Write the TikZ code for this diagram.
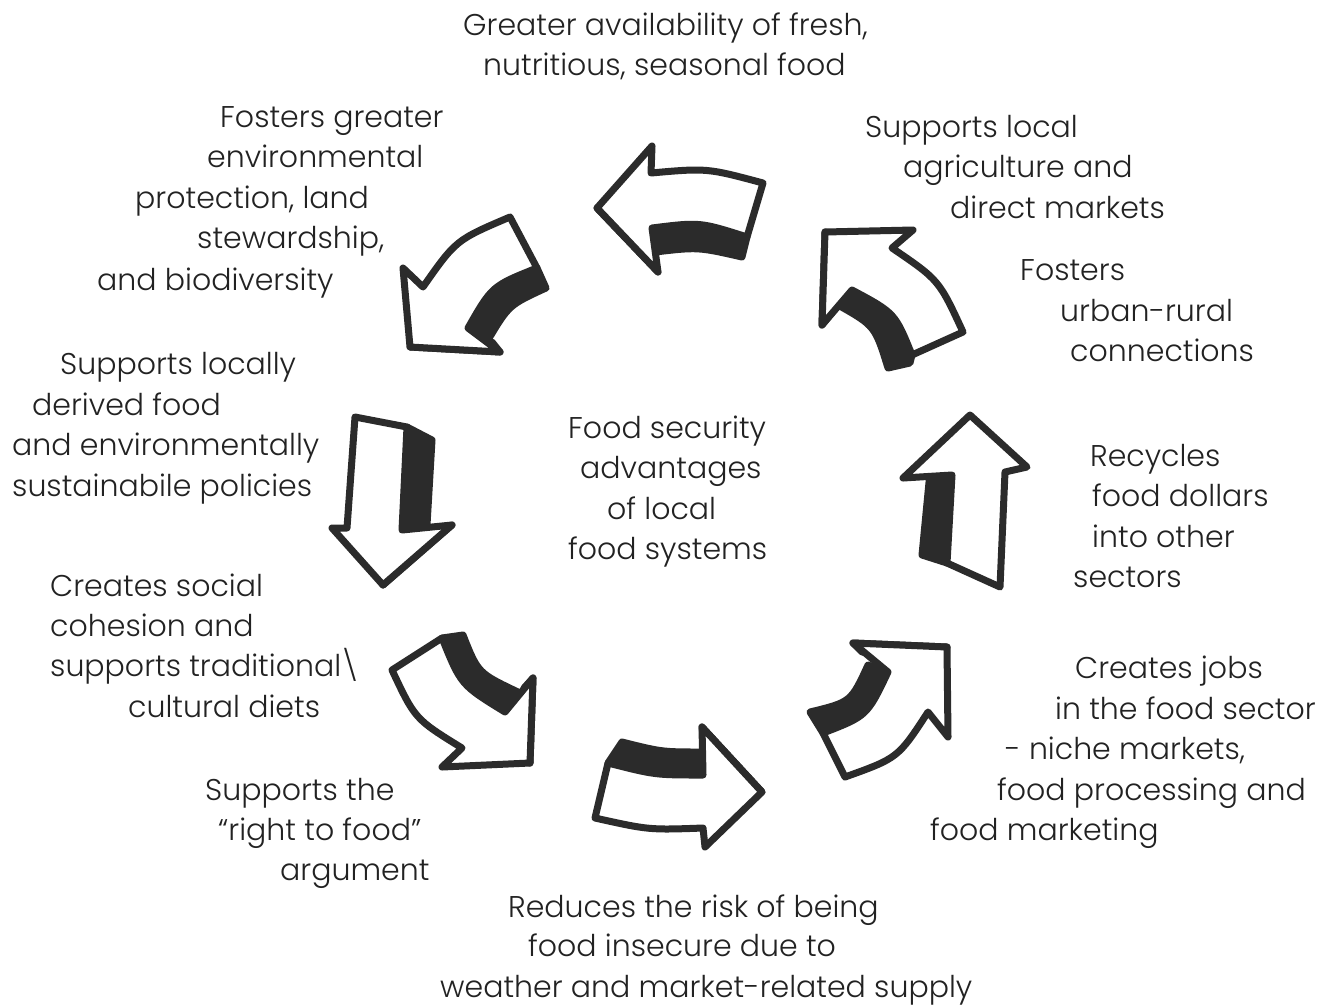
\documentclass[tikz,border=0pt]{standalone}
\usepackage{fontspec}
\setmainfont{Poppins}[UprightFont={* Light}]
\definecolor{ink}{HTML}{2B2B2B}
\definecolor{txt}{HTML}{222222}
\begin{document}
\begin{tikzpicture}[x=1pt,y=-1pt,
  face/.style={fill=white,draw=ink,line width=7pt,line join=round},
  side/.style={fill=ink,draw=ink,line width=7pt,line join=round},
  lbl/.style={anchor=base west,inner sep=0pt,font=\fontsize{30}{36}\selectfont,text=txt}]
\fill[white] (0,0) rectangle (1335,1005);
\useasboundingbox (0,0) rectangle (1335,1005);

% --- ring of block arrows, dark side facing the centre ---
% top, pointing left
\path[side] (652,228) .. controls (700,222) .. (747,237) -- (742,257) .. controls (698,247) .. (655,252) -- cycle;
\path[side] (597,208) -- (658,272) -- (650,262) -- (606,214) -- cycle;
\path[face] (597,208) -- (652,146) -- (651,173) .. controls (707,168) .. (763,183) -- (747,237) .. controls (700,222) .. (652,228) -- (658,272) -- cycle;
% upper right, pointing up-left
\path[side] (852,290) .. controls (895,313) .. (912,355) -- (910,363) -- (888,368) .. controls (875,326) .. (838,305) -- cycle;
\path[side] (825,232) -- (840,245) -- (838,305) -- (822,325) -- cycle;
\path[face] (825,232) -- (913,230) -- (892,248) .. controls (939,280) .. (963,332) -- (912,355) .. controls (895,313) .. (852,290) -- (822,325) -- cycle;
% right, pointing up
\path[side] (930,472) -- (952,475) -- (947,563) -- (922,555) -- cycle;
\path[face] (970,415) -- (1027,467) -- (1005,472) -- (1000,587) -- (947,563) -- (952,475) -- (903,478) -- cycle;
% lower right, pointing up-right
\path[side] (823,733) -- (810,712) .. controls (851,702) .. (868,665) -- (888,672) .. controls (867,716) .. (823,733) -- cycle;
\path[side] (853,643) -- (947,647) -- (940,655) -- (862,652) -- cycle;
\path[face] (947,647) -- (948,737) -- (928,712) .. controls (898,758) .. (845,777) -- (823,733) .. controls (867,716) .. (888,672) -- (853,643) -- cycle;
% bottom, pointing right
\path[side] (608,763) -- (622,742) .. controls (662,752) .. (703,752) -- (703,775) .. controls (655,775) .. (608,763) -- cycle;
\path[side] (702,727) -- (762,792) -- (752,796) -- (704,744) -- cycle;
\path[face] (762,792) -- (705,847) -- (703,828) .. controls (649,830) .. (595,818) -- (608,763) .. controls (655,775) .. (703,775) -- (702,727) -- cycle;
% lower left, pointing down-right
\path[side] (442,638) -- (463,635) .. controls (478,673) .. (518,692) -- (505,712) .. controls (461,685) .. (442,638) -- cycle;
\path[side] (533,678) -- (530,763) -- (522,755) -- (524,688) -- cycle;
\path[face] (530,763) -- (442,767) -- (462,748) .. controls (415,719) .. (392,670) -- (442,638) .. controls (461,685) .. (505,712) -- (533,678) -- cycle;
% left, pointing down
\path[side] (407,427) -- (432,440) -- (427,525) -- (402,530) -- cycle;
\path[side] (452,525) -- (383,585) -- (386,574) -- (440,530) -- cycle;
\path[face] (383,585) -- (332,528) -- (347,528) -- (355,417) -- (407,427) -- (402,530) -- (452,525) -- cycle;
% upper left, pointing down-left
\path[side] (537,268) -- (546,288) .. controls (509,305) .. (488,340) -- (468,328) .. controls (492,286) .. (537,268) -- cycle;
\path[side] (410,347) -- (500,352) -- (492,342) -- (416,338) -- cycle;
\path[face] (410,347) -- (403,268) -- (423,287) .. controls (456,240) .. (510,217) -- (537,268) .. controls (492,286) .. (468,328) -- (500,352) -- cycle;

% --- centre ---
\node[lbl] (c1) at (568,438) {Food security};
\node[lbl] (c2) at (580,478) {advantages};
\node[lbl] (c3) at (607,519) {of local};
\node[lbl] (c4) at (568,559) {food systems};

% --- labels around the ring ---
\node[lbl] (a1) at (463,35) {Greater availability of fresh,};
\node[lbl] (a2) at (483,75) {nutritious, seasonal food};

\node[lbl] (b1) at (865,137) {Supports local};
\node[lbl] (b2) at (903,177) {agriculture and};
\node[lbl] (b3) at (950,218) {direct markets};

\node[lbl] (d1) at (1020,280) {Fosters};
\node[lbl] (d2) at (1060,321) {urban-rural};
\node[lbl] (d3) at (1070,361) {connections};

\node[lbl] (e1) at (1090,466) {Recycles};
\node[lbl] (e2) at (1092,506) {food dollars};
\node[lbl] (e3) at (1092,547) {into other};
\node[lbl] (e4) at (1073,587) {sectors};

\node[lbl] (f1) at (1075,678) {Creates jobs};
\node[lbl] (f2) at (1055,719) {in the food sector};
\node[lbl] (f3) at (1005,759) {- niche markets,};
\node[lbl] (f4) at (997,800) {food processing and};
\node[lbl] (f5) at (930,840) {food marketing};

\node[lbl] (g1) at (508,917) {Reduces the risk of being};
\node[lbl] (g2) at (528,956) {food insecure due to};
\node[lbl] (g3) at (440,997) {weather and market-related supply};

\node[lbl] (h1) at (205,800) {Supports the};
\node[lbl] (h2) at (218,840) {“right to food”};
\node[lbl] (h3) at (280,880) {argument};

\node[lbl] (i1) at (50,596) {Creates social};
\node[lbl] (i2) at (50,636) {cohesion and};
\node[lbl] (i3) at (50,676) {supports traditional\textbackslash};
\node[lbl] (i4) at (128,717) {cultural diets};

\node[lbl] (j1) at (60,374) {Supports locally};
\node[lbl] (j2) at (32,415) {derived food};
\node[lbl] (j3) at (12,455) {and environmentally};
\node[lbl] (j4) at (12,496) {sustainabile policies};

\node[lbl] (k1) at (220,127) {Fosters greater};
\node[lbl] (k2) at (207,167) {environmental};
\node[lbl] (k3) at (135,208) {protection, land};
\node[lbl] (k4) at (197,248) {stewardship,};
\node[lbl] (k5) at (97,290) {and biodiversity};
\end{tikzpicture}
\end{document}
